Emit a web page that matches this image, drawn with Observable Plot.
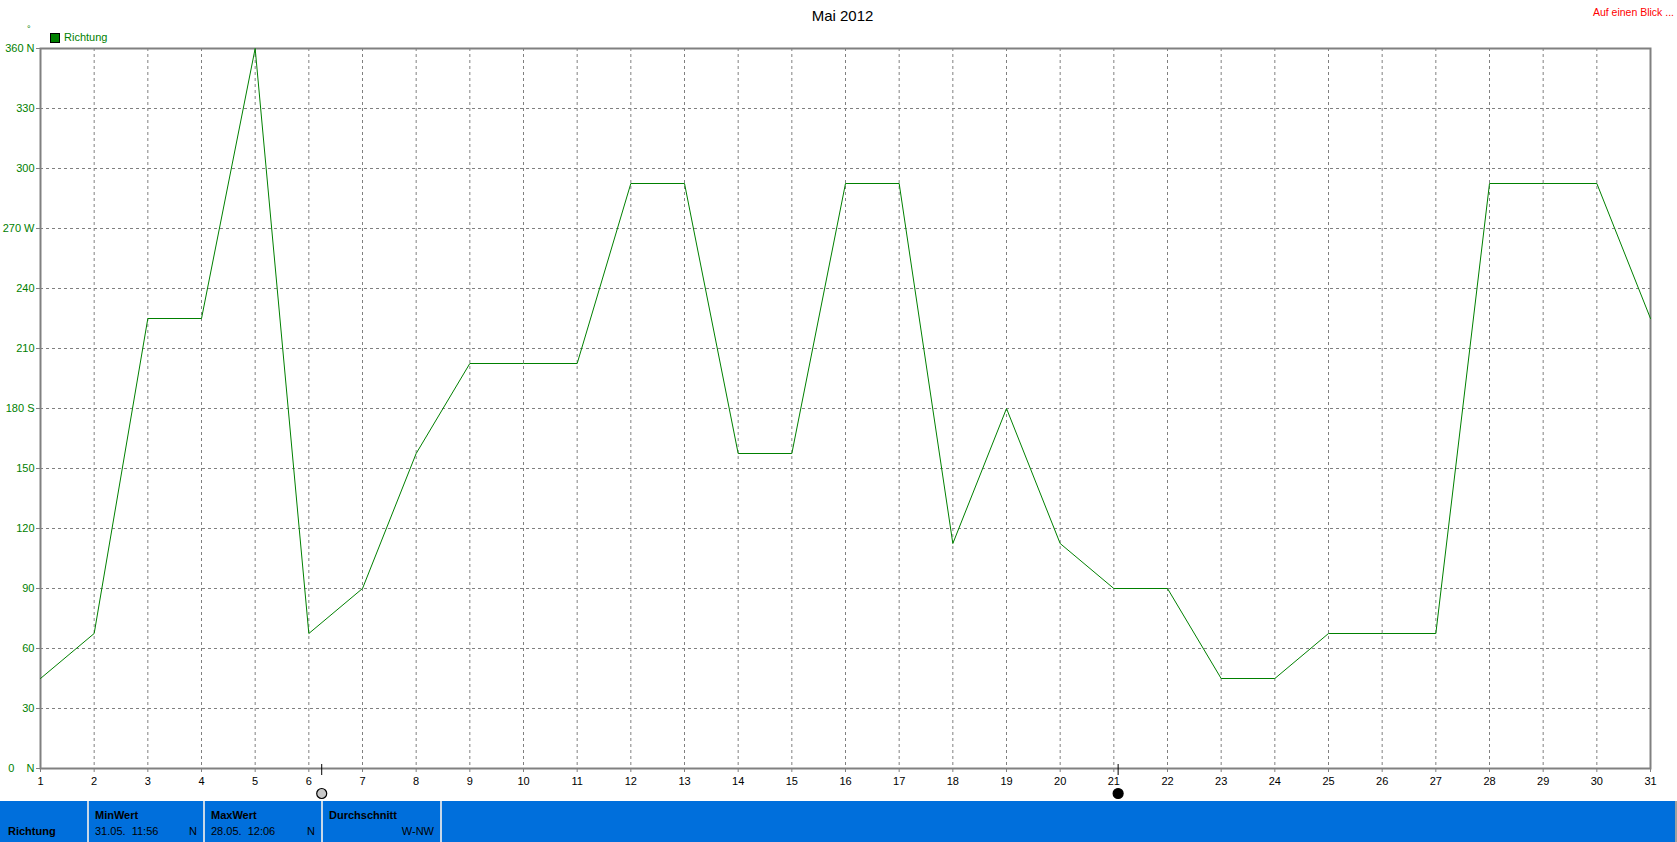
<!DOCTYPE html>
<html><head><meta charset="utf-8">
<script src="https://cdn.jsdelivr.net/npm/d3@7"></script>
<script src="https://cdn.jsdelivr.net/npm/@observablehq/plot@0.6"></script>
<style>
body{margin:0;background:#fff;font-family:"Liberation Sans",Arial,sans-serif;}
#wrap{position:relative;width:1677px;height:842px;overflow:hidden;}
.abs{position:absolute;white-space:pre;line-height:1;}
#bar{position:absolute;left:0;top:801px;width:1675px;height:41px;background:#006fdc;border-right:2px solid #a0a0a0;}
.sep{position:absolute;top:0;width:2px;height:41px;background:#c8d8e8;}
.b{font-weight:bold;font-size:11px;color:#000;}
.n{font-size:11px;color:#000;}
</style></head>
<body><div id="wrap">
<div class="abs" style="left:0;width:1677px;top:8px;text-align:center;font-size:15px;color:#000;padding-left:4px">Mai 2012</div>
<div class="abs" style="right:3px;top:7px;font-size:10.5px;color:#f00;text-align:right">Auf einen Blick ...</div>
<div class="abs" style="left:27px;top:25px;font-size:9px;color:#008000">°</div>
<div class="abs" style="left:50px;top:33px;width:8px;height:8px;background:#008000;border:1px solid #000"></div>
<div class="abs" style="left:64px;top:32px;font-size:11px;color:#008000">Richtung</div>
<div id="chart" style="position:absolute;left:0;top:0"></div>
<div id="bar"></div>
</div>
<script>
const days = [1,2,3,4,5,6,7,8,9,10,11,12,13,14,15,16,17,18,19,20,21,22,23,24,25,26,27,28,29,30,31];
const richtung = [45,67.5,225,225,360,67.5,90,157.5,202.5,202.5,202.5,292.5,292.5,157.5,157.5,292.5,292.5,112.5,180,112.5,90,90,45,45,67.5,67.5,67.5,292.5,292.5,292.5,225];
const yTicks = [0,30,60,90,120,150,180,210,240,270,300,330,360];
const yTickLabels = ["0\u2007\u2007N","30","60","90","120","150","180 S","210","240","270 W","300","330","360 N"];
const moonDays = [6.24, 21.08];
const moonPhase = ["full","new"];
const statLabels = ["MinWert","MaxWert","Durchschnitt"];
const statTimes = ["31.05.  11:56","28.05.  12:06",""];
const statValues = ["N","N","W-NW"];
const seriesName = "Richtung";

const data = days.map((d,i)=>({day:d, value:richtung[i]}));
const moons = moonDays.map((d,i)=>({day:d, phase:moonPhase[i]}));
const innerTicksX = days.slice(1,-1);
const innerTicksY = yTicks.slice(1,-1);

const chart = Plot.plot({
  width:1677, height:801,
  marginLeft:40, marginRight:27, marginTop:48, marginBottom:33,
  style:{fontFamily:"Liberation Sans, Arial, sans-serif", fontSize:"11px", background:"transparent", overflow:"visible"},
  x:{domain:[1,31]},
  y:{domain:[0,360]},
  marks:[
    Plot.gridX(innerTicksX, {stroke:"#808080", strokeOpacity:1, strokeDasharray:"3,3"}),
    Plot.gridY(innerTicksY, {stroke:"#808080", strokeOpacity:1, strokeDasharray:"3,3"}),
    Plot.frame({stroke:"#808080", strokeWidth:2}),
    Plot.axisX({ticks:days, tickFormat:d=>String(d), tickSize:4, tickPadding:5, stroke:"#808080", fill:"#000", label:null}),
    Plot.axisY({ticks:yTicks, tickFormat:(d,i)=>yTickLabels[yTicks.indexOf(d)], tickSize:4, tickPadding:2, stroke:"#808080", fill:"#008000", label:null}),
    Plot.line(data, {x:"day", y:"value", stroke:"#008000", strokeWidth:1}),
    Plot.ruleX(moons, {x:"day", stroke:"#000", insetTop:716, insetBottom:-7}),
    Plot.dot(moons, {x:"day", frameAnchor:"bottom", dy:25, r:5, stroke:"#000", strokeWidth:1.2, fill:d=>d.phase==="new"?"#000":"#c8c8c8"})
  ]
});
document.getElementById("chart").appendChild(chart);

const bar = document.getElementById("bar");
const cells = [
  {x:0, w:88}, {x:88, w:116}, {x:204, w:118}, {x:322, w:119}
];
function add(html){ bar.insertAdjacentHTML("beforeend", html); }
add(`<div class="abs b" style="left:8px;top:25px">${seriesName}</div>`);
[88,204,322,441].forEach(x=>add(`<div class="sep" style="left:${x-1}px"></div>`));
statLabels.forEach((lab,i)=>{
  const c = cells[i+1];
  add(`<div class="abs b" style="left:${c.x+7}px;top:9px">${lab}</div>`);
  add(`<div class="abs n" style="left:${c.x+7}px;top:25px">${statTimes[i]}</div>`);
  add(`<div class="abs n" style="left:${c.x}px;width:${c.w-7}px;text-align:right;top:25px">${statValues[i]}</div>`);
});
</script>
</body></html>
